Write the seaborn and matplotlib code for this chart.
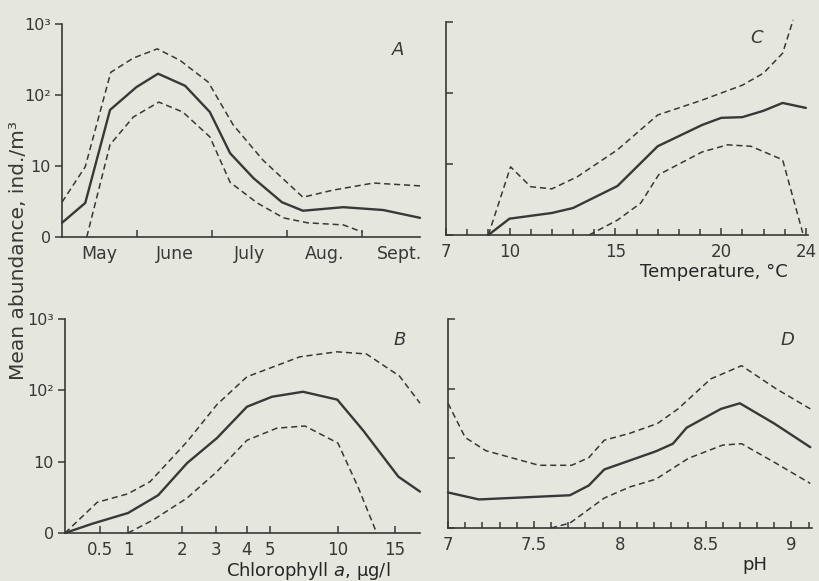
import numpy as np
import pandas as pd
import seaborn as sns
import matplotlib
matplotlib.use("Agg")
import matplotlib.pyplot as plt

# y values are read as decades on the plot's log-like axis (0, 10, 10^2, 10^3 -> 0..3)
# --- A: season (months since 1 May)
a_mean_x = [0, 0.31, 0.64, 0.99, 1.28, 1.64, 1.97, 2.24, 2.55, 2.93, 3.21, 3.75, 4.28, 4.77]
a_mean_y = [0.20, 0.48, 1.79, 2.11, 2.30, 2.13, 1.76, 1.18, 0.83, 0.49, 0.37, 0.42, 0.38, 0.27]
a_up_x = [0, 0.31, 0.65, 0.95, 1.27, 1.57, 1.95, 2.28, 2.68, 3.21, 3.61, 4.15, 4.77]
a_up_y = [0.49, 0.99, 2.32, 2.52, 2.65, 2.49, 2.18, 1.58, 1.08, 0.56, 0.66, 0.76, 0.72]
a_lo_x = [0.33, 0.64, 0.95, 1.29, 1.61, 1.97, 2.24, 2.60, 2.95, 3.27, 3.75, 4.0]
a_lo_y = [0, 1.30, 1.69, 1.90, 1.76, 1.41, 0.77, 0.48, 0.27, 0.20, 0.17, 0.07]
months = ["May", "June", "July", "Aug.", "Sept."]

# --- B: chlorophyll a
b_mean_x = [0, 0.39, 1, 1.56, 2.15, 3.03, 4, 5.15, 7.43, 9.95, 12.2, 15.3, 17.2]
b_mean_y = [0, 0.13, 0.28, 0.53, 0.98, 1.33, 1.77, 1.91, 1.98, 1.87, 1.44, 0.79, 0.58]
b_up_x = [0, 0.46, 1, 1.41, 2.15, 3.03, 4, 7.2, 9.93, 12.5, 15.4, 17.2]
b_up_y = [0, 0.43, 0.55, 0.72, 1.28, 1.80, 2.19, 2.47, 2.54, 2.51, 2.20, 1.82]
b_lo_x = [1, 1.46, 2.15, 3.03, 4, 5.51, 7.57, 10, 11.75, 13.4]
b_lo_y = [0, 0.18, 0.49, 0.86, 1.30, 1.47, 1.50, 1.26, 0.65, 0]
chl_ticks = [0.5, 1, 2, 3, 4, 5, 10, 15]
# hand-drawn chlorophyll axis: value -> position along the axis
chl_vals = [0, 0.5, 1, 2, 3, 4, 5, 10, 15, 20]
chl_pos = [65, 100, 128, 182, 216, 247, 270, 338, 395, 452]

# --- C: temperature
c_mean_x = [9, 10, 12, 13, 15.1, 17, 19.1, 20, 21, 22, 22.9, 24]
c_mean_y = [0, 0.23, 0.31, 0.38, 0.69, 1.25, 1.55, 1.65, 1.66, 1.75, 1.86, 1.79]
c_up_x = [9, 10.05, 11, 12, 13.2, 15.1, 17, 19.1, 21, 22, 22.9, 23.4]
c_up_y = [0, 0.96, 0.68, 0.65, 0.82, 1.20, 1.69, 1.90, 2.11, 2.28, 2.56, 3.03]
c_lo_x = [13.76, 15.1, 16.2, 17.05, 19.1, 20.3, 21.4, 22.9, 23.85]
c_lo_y = [0, 0.21, 0.45, 0.85, 1.17, 1.27, 1.25, 1.06, 0.03]
temp_ticks = [7, 10, 15, 20, 24]

# --- D: pH
d_mean_x = [7.0, 7.18, 7.71, 7.82, 7.91, 8.06, 8.21, 8.31, 8.39, 8.59, 8.70, 8.90, 9.11]
d_mean_y = [0.51, 0.41, 0.47, 0.61, 0.84, 0.97, 1.10, 1.21, 1.44, 1.71, 1.79, 1.50, 1.16]
d_up_x = [7.0, 7.10, 7.22, 7.53, 7.72, 7.82, 7.91, 8.06, 8.22, 8.34, 8.53, 8.71, 8.91, 9.11]
d_up_y = [1.79, 1.30, 1.11, 0.90, 0.90, 1.01, 1.26, 1.36, 1.50, 1.71, 2.14, 2.33, 2.00, 1.71]
d_lo_x = [7.6, 7.71, 7.91, 8.06, 8.21, 8.40, 8.60, 8.71, 8.91, 9.11]
d_lo_y = [0, 0.07, 0.43, 0.59, 0.70, 1.00, 1.19, 1.21, 0.93, 0.64]
ph_ticks = [7, 7.5, 8, 8.5, 9]

y_ticks = [0, 1, 2, 3]
y_labels = ["0", "10", "10²", "10³"]

paper = "#e5e6dd"
ink = "#383838"

sns.set_theme(style="ticks")
plt.rcParams["font.family"] = ["DejaVu Sans"]
plt.rcParams["text.color"] = ink
plt.rcParams["xtick.color"] = ink
plt.rcParams["ytick.color"] = ink
plt.rcParams["axes.edgecolor"] = ink

fig = plt.figure(figsize=(8.2, 5.81), dpi=100, facecolor=paper)
W, H = 820, 581


def add_ax(l, r, t, b):
    ax = fig.add_axes([l / W, 1 - b / H, (r - l) / W, (b - t) / H])
    ax.set_facecolor(paper)
    sns.despine(ax=ax)
    ax.spines["left"].set_linewidth(1.2)
    ax.spines["bottom"].set_linewidth(1.2)
    ax.set_ylim(0, 3)
    ax.set_yticks(y_ticks)
    ax.tick_params(axis="x", direction="in", length=5, width=1.1, labelsize=12, pad=6)
    ax.tick_params(axis="x", which="minor", direction="in", length=4, width=1.1)
    return ax


def draw(ax, mean, up, lo):
    for (x, y), ls, lw in [(mean, "-", 1.7), (up, (0, (4, 2.5)), 1.1), (lo, (0, (4, 2.5)), 1.1)]:
        df = pd.DataFrame({"x": x, "y": y})
        sns.lineplot(data=df, x="x", y="y", ax=ax, color=ink, linestyle=ls,
                     linewidth=lw, sort=False, estimator=None, clip_on=False)
    ax.set_xlabel("")
    ax.set_ylabel("")


def place_xlabel(ax, text, cx, cy):
    ax.set_xlabel(text, fontsize=13)
    ax.xaxis.set_label_coords(cx / W, 1 - cy / H, transform=fig.transFigure)
    ax.xaxis.label.set_verticalalignment("center")


axA = add_ax(62, 420, 24, 237)
axC = add_ax(446, 808, 22, 235)
axB = add_ax(65, 420, 319, 533)
axD = add_ax(448, 812, 319, 528)

# A
draw(axA, (a_mean_x, a_mean_y), (a_up_x, a_up_y), (a_lo_x, a_lo_y))
axA.set_xlim(0, 4.77)
axA.set_xticks([1, 2, 3, 4])
axA.set_xticklabels([])
axA.set_xticks([0.5, 1.5, 2.5, 3.5, 4.5], minor=True)
axA.set_xticklabels(months, minor=True)
axA.tick_params(axis="x", which="minor", length=0, labelsize=12.5, pad=6)

# B
fwd = lambda v: np.interp(v, chl_vals, chl_pos)
inv = lambda p: np.interp(p, chl_pos, chl_vals)
axB.set_xscale("function", functions=(fwd, inv))
draw(axB, (b_mean_x, b_mean_y), (b_up_x, b_up_y), (b_lo_x, b_lo_y))
axB.set_xlim(0, 17.2)
axB.set_xticks(chl_ticks)
axB.set_xticklabels([str(t) for t in chl_ticks])
axB.xaxis.set_minor_locator(matplotlib.ticker.NullLocator())
place_xlabel(axB, "Chlorophyll $\\it{a}$, µg/l", 308, 571)

# C
draw(axC, (c_mean_x, c_mean_y), (c_up_x, c_up_y), (c_lo_x, c_lo_y))
axC.set_xlim(7, 24.1)
axC.set_xticks(temp_ticks)
axC.set_xticks(np.arange(8, 24, 1), minor=True)
place_xlabel(axC, "Temperature, °C", 714, 272)

# D
draw(axD, (d_mean_x, d_mean_y), (d_up_x, d_up_y), (d_lo_x, d_lo_y))
axD.set_xlim(7, 9.12)
axD.set_xticks(ph_ticks)
axD.set_xticklabels([str(t) for t in ph_ticks])
axD.set_xticks(np.arange(7.1, 9.11, 0.1), minor=True)
place_xlabel(axD, "pH", 755, 565)

for ax in (axA, axB):
    ax.set_yticklabels(y_labels)
    ax.tick_params(axis="y", direction="out", length=5, width=1.1, labelsize=11.5, pad=3)
for ax in (axC, axD):
    ax.set_yticklabels([])
    ax.tick_params(axis="y", direction="in", length=5, width=1.1)

for ax, letter, (px, py) in [(axA, "A", (398, 50)), (axC, "C", (757, 38)),
                             (axB, "B", (400, 340)), (axD, "D", (787, 340))]:
    fig.text(px / W, 1 - py / H, letter, fontsize=13, style="italic",
             ha="center", va="center")

fig.text(19 / W, 1 - 251 / H, "Mean abundance, ind./m³", rotation=90,
         fontsize=14.5, ha="center", va="center")

fig.savefig("out.png", dpi=100, facecolor=paper)
